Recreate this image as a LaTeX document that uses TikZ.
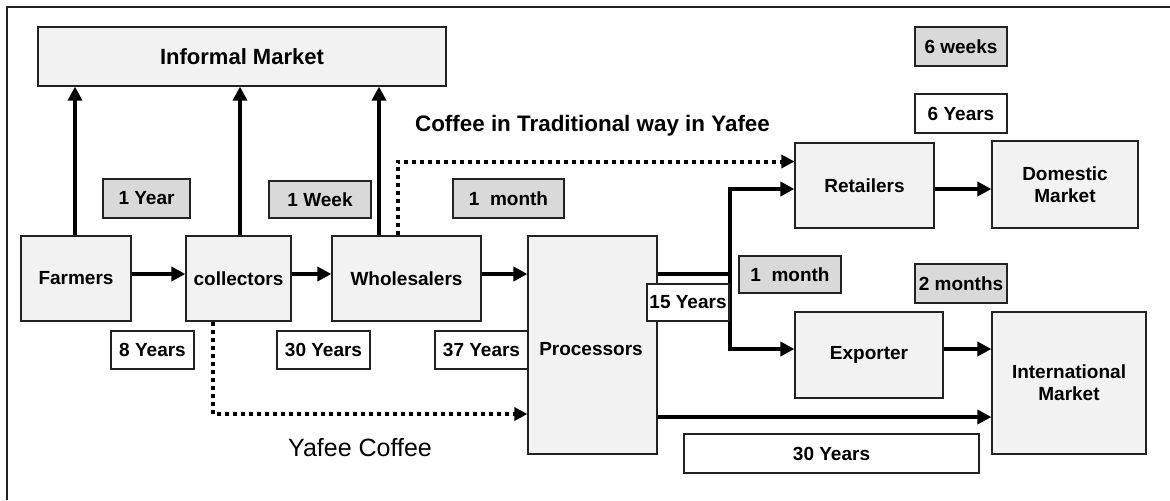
\documentclass[tikz,border=0pt]{standalone}
\usepackage{fontspec}
\setmainfont{Liberation Sans}
\usetikzlibrary{arrows.meta}
\definecolor{boxfill}{HTML}{F2F2F2}
\definecolor{labfill}{HTML}{D9D9D9}
\definecolor{edge}{HTML}{222222}
\begin{document}
\begin{tikzpicture}[x=0.5pt,y=-0.5pt,
  box/.style={draw=edge,line width=0.6pt,fill=boxfill,inner sep=0pt,align=center,
    font=\bfseries\fontsize{9.5}{11}\selectfont},
  tag/.style={draw=edge,line width=0.6pt,fill=white,inner sep=0pt,
    font=\bfseries\fontsize{9.5}{11}\selectfont},
  gtag/.style={tag,fill=labfill},
  arr/.style={line width=2pt,-{Triangle[length=7pt,width=7pt]}},
  dotarr/.style={line width=2pt,dash pattern=on 2pt off 2pt,
    -{Triangle[length=6.5pt,width=6.5pt]}},
  heading/.style={inner sep=0pt,font=\bfseries\fontsize{11.2}{13}\selectfont},
]
\useasboundingbox (0,0) rectangle (1170,500);
\draw[line width=1pt,draw=edge] (7,500) -- (7,7) -- (1170,7);

% main boxes
\node[box,minimum width=204pt,minimum height=29.5pt,font=\bfseries\fontsize{11}{13}\selectfont] (inf) at (242,56.5) {Informal Market};
\node[box,minimum width=55pt,minimum height=42.5pt] (farm) at (76,278.5) {Farmers};
\node[box,minimum width=52.5pt,minimum height=42.5pt] (coll) at (238.5,278.5) {collectors};
\node[box,minimum width=74.5pt,minimum height=42.5pt] (whol) at (406.5,278.5) {Wholesalers};
\node[box,minimum width=64.5pt,minimum height=109pt] (proc) at (592.5,345) {};
\node[inner sep=0pt,font=\bfseries\fontsize{9.5}{11}\selectfont] (proct) at (591,349) {Processors};
\node[box,minimum width=69.5pt,minimum height=42.5pt] (ret) at (864.5,185.5) {Retailers};
\node[box,minimum width=73pt,minimum height=43.5pt] (dom) at (1065,184.5) {Domestic\\Market};
\node[box,minimum width=74pt,minimum height=43pt] (exp) at (869,355) {Exporter};
\node[box,minimum width=77pt,minimum height=71pt] (intl) at (1069,383) {International\\Market};

% helper coordinates
\coordinate (ax1) at (75,0);
\coordinate (ax2) at (240,0);
\coordinate (ax3) at (379,0);
\coordinate (hy) at (0,274);
\coordinate (jx) at (730,0);
\coordinate (ry) at (0,189);
\coordinate (ey) at (0,349);
\coordinate (iy) at (0,417);
\coordinate (dx1) at (213,0);
\coordinate (dy1) at (0,414);
\coordinate (dx2) at (398,0);
\coordinate (dy2) at (0,161.5);

% connectors
\draw[arr] (farm.north -| ax1) -- (inf.south -| ax1);
\draw[arr] (coll.north -| ax2) -- (inf.south -| ax2);
\draw[arr] (whol.north -| ax3) -- (inf.south -| ax3);
\draw[arr] (farm.east |- hy) -- (coll.west |- hy);
\draw[arr] (coll.east |- hy) -- (whol.west |- hy);
\draw[arr] (whol.east |- hy) -- (proc.west |- hy);
\draw[arr] (proc.east |- hy) -- (jx |- hy) |- (ret.west |- ry);
\draw[arr] (jx |- hy) |- (exp.west |- ey);
\draw[arr] (ret.east |- ry) -- (dom.west |- ry);
\draw[arr] (exp.east |- ey) -- (intl.west |- ey);
\draw[arr] (proc.east |- iy) -- (intl.west |- iy);
\draw[dotarr] (coll.south -| dx1) |- (proc.west |- dy1);
\draw[dotarr] (whol.north -| dx2) |- (ret.west |- dy2);

% duration / age tags
\node[gtag,minimum width=43.5pt,minimum height=19.5pt] (t1y) at (146.5,198.5) {1 Year};
\node[gtag,minimum width=51pt,minimum height=18.5pt] (t1w) at (320,199.5) {1 Week};
\node[gtag,minimum width=55.5pt,minimum height=19.5pt] (t1m) at (508.5,198.5) {1 \ month};
\node[gtag,minimum width=46pt,minimum height=19.5pt] (t6w) at (961,46.5) {6 weeks};
\node[tag,minimum width=46pt,minimum height=19.5pt] (t6y) at (961,113.5) {6 Years};
\node[tag,minimum width=41.5pt,minimum height=19pt] (t8y) at (152.5,350) {8 Years};
\node[tag,minimum width=46.5pt,minimum height=19pt] (t30a) at (323.5,350) {30 Years};
\node[tag,minimum width=46.5pt,minimum height=19pt] (t37) at (481.5,350) {37 Years};
\node[tag,minimum width=41pt,minimum height=18.5pt] (t15) at (688,302.5) {15 Years};
\node[gtag,minimum width=51pt,minimum height=18.5pt] (t1mb) at (790,274.5) {1 \ month};
\node[gtag,minimum width=46pt,minimum height=19.5pt] (t2m) at (961,283.5) {2 months};
\node[tag,minimum width=147.5pt,minimum height=19.5pt] (t30b) at (831.5,453.5) {30 Years};

% free texts
\node[heading] (trad) at (592.5,126) {Coffee in Traditional way in Yafee};
\node[inner sep=0pt,font=\fontsize{12.5}{15}\selectfont] (yafee) at (360,448) {Yafee Coffee};
\end{tikzpicture}
\end{document}
